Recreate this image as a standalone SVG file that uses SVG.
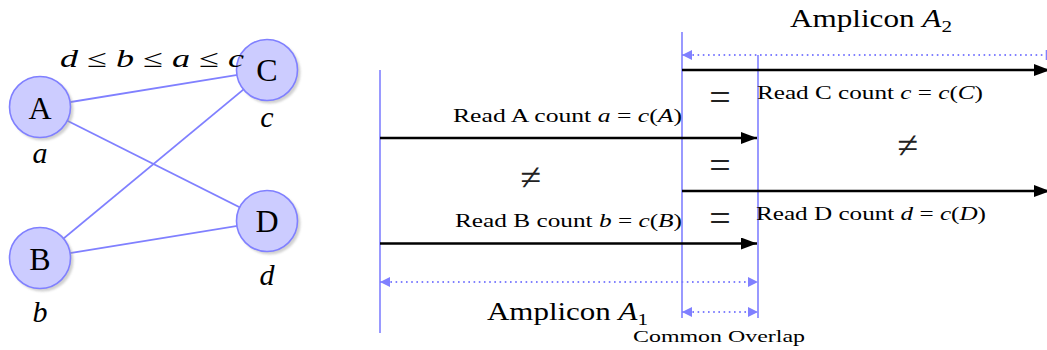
<svg xmlns="http://www.w3.org/2000/svg" width="1047" height="350" viewBox="0 0 1047 350">
<style>
text{font-family:"Liberation Serif","DejaVu Serif",serif;fill:#000}
.i{font-style:italic}
.node{fill:#ccccff;stroke:#8080ff;stroke-width:1.6}
.shadow{fill:#999;opacity:0.45}
.edge{stroke:#8080ff;stroke-width:1.8;fill:none}
.vl{stroke:#8080ff;stroke-width:1.6}
.dot{stroke:#8080ff;stroke-width:1.8;stroke-dasharray:1.6 3.6;fill:none}
.read{stroke:#000;stroke-width:2.6;fill:none}
.nl{font-size:32px;text-anchor:middle}
.lab{font-size:30px;text-anchor:middle;font-style:italic}
.rt{font-size:18px}
.eq{font-size:38px;text-anchor:middle;fill:#222}
</style>
<defs>
<filter id="blur" x="-20%" y="-20%" width="140%" height="140%"><feGaussianBlur stdDeviation="1.2"/></filter>
<marker id="ah" viewBox="0 0 16 12" refX="16" refY="6" markerWidth="16" markerHeight="12" markerUnits="userSpaceOnUse" orient="auto"><path d="M0,0 L16,6 L0,12 Z" fill="#000"/></marker>
<marker id="bh" viewBox="0 0 10 10" refX="10" refY="5" markerWidth="10" markerHeight="10" markerUnits="userSpaceOnUse" orient="auto-start-reverse"><path d="M0,0 L10,5 L0,10 Z" fill="#8080ff"/></marker>
</defs>

<g id="connectors">
<line class="edge" x1="40" y1="107" x2="267" y2="70"/>
<line class="edge" x1="40" y1="107" x2="267" y2="221"/>
<line class="edge" x1="40" y1="258" x2="267" y2="70"/>
<line class="edge" x1="40" y1="258" x2="267" y2="221"/>
</g>

<g id="node-A">
<circle class="shadow" cx="42.5" cy="109.5" r="31" filter="url(#blur)"/>
<circle class="node" cx="40" cy="107" r="30.5"/>
<text class="nl" x="40" y="119">A</text>
<text class="lab" x="40" y="163">a</text>
</g>
<g id="node-B">
<circle class="shadow" cx="42.5" cy="260.5" r="31" filter="url(#blur)"/>
<circle class="node" cx="40" cy="258" r="30.5"/>
<text class="nl" x="40" y="270">B</text>
<text class="lab" x="40" y="322">b</text>
</g>
<g id="node-C">
<circle class="shadow" cx="269.5" cy="72.5" r="31" filter="url(#blur)"/>
<circle class="node" cx="267" cy="70" r="30.5"/>
<text class="nl" x="267" y="81">C</text>
<text class="lab" x="267" y="127">c</text>
</g>
<g id="node-D">
<circle class="shadow" cx="269.5" cy="223.5" r="31" filter="url(#blur)"/>
<circle class="node" cx="267" cy="221" r="30.5"/>
<text class="nl" x="267" y="232">D</text>
<text class="lab" x="267" y="285">d</text>
</g>

<text id="order" x="60" y="67" style="font-size:25px" textLength="184" lengthAdjust="spacingAndGlyphs"><tspan class="i">d</tspan> ≤ <tspan class="i">b</tspan> ≤ <tspan class="i">a</tspan> ≤ <tspan class="i">c</tspan></text>

<g id="amplicons">
<line class="vl" x1="380" y1="70" x2="380" y2="333"/>
<line class="vl" x1="682" y1="32" x2="682" y2="318"/>
<line class="vl" x1="758" y1="55" x2="758" y2="318"/>
<line class="vl" x1="1046.5" y1="50" x2="1046.5" y2="60"/>
<line class="dot" x1="682" y1="55" x2="1046" y2="55" marker-start="url(#bh)"/>
<line class="dot" x1="380" y1="282" x2="758" y2="282" marker-start="url(#bh)" marker-end="url(#bh)"/>
<line class="dot" x1="682" y1="312" x2="758" y2="312" marker-start="url(#bh)" marker-end="url(#bh)"/>
</g>

<g id="reads">
<line class="read" x1="380" y1="138" x2="757" y2="138" marker-end="url(#ah)"/>
<line class="read" x1="380" y1="243.5" x2="757" y2="243.5" marker-end="url(#ah)"/>
<line class="read" x1="682" y1="70" x2="1050" y2="70" marker-end="url(#ah)"/>
<line class="read" x1="682" y1="191" x2="1050" y2="191" marker-end="url(#ah)"/>
</g>

<g id="labels">
<text class="rt" x="453" y="122" textLength="229" lengthAdjust="spacingAndGlyphs">Read A count <tspan class="i">a</tspan> = <tspan class="i">c</tspan>(<tspan class="i">A</tspan>)</text>
<text class="rt" x="455" y="227" textLength="227" lengthAdjust="spacingAndGlyphs">Read B count <tspan class="i">b</tspan> = <tspan class="i">c</tspan>(<tspan class="i">B</tspan>)</text>
<text class="rt" x="757" y="98.5" textLength="226" lengthAdjust="spacingAndGlyphs">Read C count <tspan class="i">c</tspan> = <tspan class="i">c</tspan>(<tspan class="i">C</tspan>)</text>
<text class="rt" x="756" y="220" textLength="230" lengthAdjust="spacingAndGlyphs">Read D count <tspan class="i">d</tspan> = <tspan class="i">c</tspan>(<tspan class="i">D</tspan>)</text>
<text class="eq" x="720" y="110">=</text>
<text class="eq" x="720" y="178">=</text>
<text class="eq" x="720" y="231">=</text>
<text class="eq" x="531" y="190">≠</text>
<text class="eq" x="908" y="158">≠</text>
<text x="487" y="320" style="font-size:25px" textLength="161" lengthAdjust="spacingAndGlyphs">Amplicon <tspan class="i">A</tspan><tspan style="font-size:17px" dy="5">1</tspan></text>
<text x="790" y="27" style="font-size:25px" textLength="162" lengthAdjust="spacingAndGlyphs">Amplicon <tspan class="i">A</tspan><tspan style="font-size:17px" dy="5">2</tspan></text>
<text x="633" y="342" style="font-size:17px" textLength="172" lengthAdjust="spacingAndGlyphs">Common Overlap</text>
</g>
</svg>
